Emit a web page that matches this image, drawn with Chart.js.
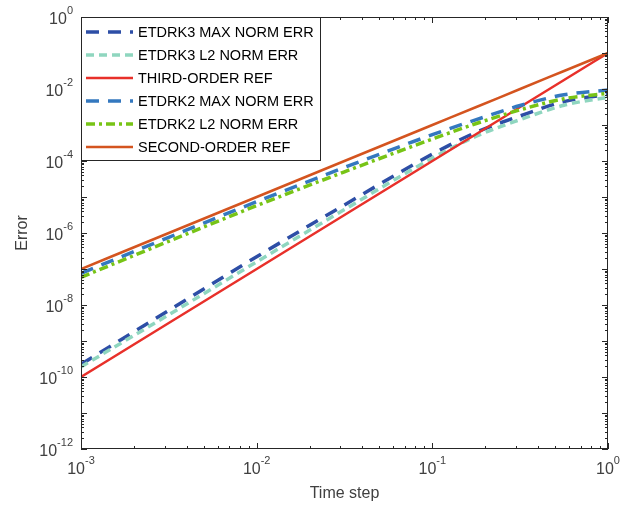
<!DOCTYPE html>
<html>
<head>
<meta charset="utf-8">
<script src="https://cdn.jsdelivr.net/npm/chart.js@4/dist/chart.umd.min.js"></script>
<style>
  html, body { margin: 0; padding: 0; background: #fff; }
</style>
</head>
<body>
<canvas id="errChart" width="620" height="507"></canvas>
<script>
// time steps (x) and errors
const timeSteps = [0.001, 0.00316, 0.01, 0.0316, 0.1, 0.178, 0.316, 0.562, 1];

const etdrk3MaxErr = [2.24e-10, 7.08e-9, 2.19e-7, 6.03e-6, 1.55e-4, 6.3e-4, 1.78e-3, 4.47e-3, 7.08e-3];
const etdrk3L2Err  = [1.91e-10, 5.37e-9, 1.58e-7, 4.47e-6, 1.2e-4, 4.9e-4, 1.41e-3, 3.55e-3, 5.89e-3];
const thirdOrderRef = [1e-10, 3.16e-9, 1e-7, 3.16e-6, 1e-4, 5.62e-4, 3.16e-3, 1.78e-2, 0.1];
const etdrk2MaxErr = [7.59e-8, 7.59e-7, 7.41e-6, 6.61e-5, 5.37e-4, 1.41e-3, 3.47e-3, 6.92e-3, 9.33e-3];
const etdrk2L2Err  = [5.89e-8, 5.89e-7, 5.75e-6, 5.01e-5, 4.07e-4, 1.10e-3, 2.63e-3, 5.37e-3, 7.59e-3];
const secondOrderRef = [1e-7, 1e-6, 1e-5, 1e-4, 1e-3, 3.16e-3, 1e-2, 3.16e-2, 0.1];

const seriesNames = ['ETDRK3 MAX NORM ERR', 'ETDRK3 L2 NORM ERR', 'THIRD-ORDER REF',
                     'ETDRK2 MAX NORM ERR', 'ETDRK2 L2 NORM ERR', 'SECOND-ORDER REF'];

const xTickExps = [-3, -2, -1, 0];
const yTickExps = [-12, -10, -8, -6, -4, -2, 0];

const FONT = '"Liberation Sans", Arial, Helvetica, sans-serif';
const INK = '#262626';

function toPoints(vals) {
    return timeSteps.map((h, i) => ({ x: h, y: vals[i] }));
}

const styles = [
    { color: '#2d4ea6', dash: [13, 9], width: 3.5 },
    { color: '#8fd6bf', dash: [8, 5], width: 3.5 },
    { color: '#e8302a', dash: [], width: 2.5 },
    { color: '#3478bf', dash: [13, 9], width: 3.5 },
    { color: '#77c416', dash: [9, 4, 3, 4], width: 3.5 },
    { color: '#d4541f', dash: [], width: 2.5 }
];
const allSeries = [etdrk3MaxErr, etdrk3L2Err, thirdOrderRef, etdrk2MaxErr, etdrk2L2Err, secondOrderRef];

const datasets = allSeries.map((vals, i) => ({
    label: seriesNames[i],
    data: toPoints(vals),
    borderColor: styles[i].color,
    backgroundColor: styles[i].color,
    borderDash: styles[i].dash,
    borderWidth: styles[i].width,
    borderCapStyle: 'butt',
    cubicInterpolationMode: 'monotone',
    pointRadius: 0,
    fill: false,
    order: allSeries.length - i  // later series on top, like matlab
}));

// draw "10" with a raised exponent
function powLabel(ctx, exp, x, y, align) {
    ctx.font = '16px ' + FONT;
    const wb = ctx.measureText('10').width;
    ctx.font = '11px ' + FONT;
    const ws = ctx.measureText(String(exp)).width;
    let left = x;
    if (align === 'right') left = x - wb - ws;
    if (align === 'center') left = x - (wb + ws) / 2;
    ctx.textAlign = 'left';
    ctx.textBaseline = 'middle';
    ctx.font = '16px ' + FONT;
    ctx.fillText('10', left, y);
    ctx.font = '11px ' + FONT;
    ctx.fillText(String(exp), left + wb, y - 9);
}

const axisDecor = {
    id: 'axisDecor',
    afterDraw(chart) {
        const ctx = chart.ctx;
        const xs = chart.scales.x, ys = chart.scales.y;
        const a = chart.chartArea;
        ctx.save();
        ctx.strokeStyle = INK;
        ctx.fillStyle = '#404040';
        ctx.lineWidth = 1;

        // ticks pointing inward on all four sides
        ctx.beginPath();
        for (let d = xTickExps[0]; d <= xTickExps[xTickExps.length - 1]; d++) {
            for (let m = 1; m <= 9; m++) {
                if (d === 0 && m > 1) break;
                const px = Math.round(xs.getPixelForValue(m * Math.pow(10, d))) + 0.5;
                const len = m === 1 ? 6 : 3;
                ctx.moveTo(px, a.bottom); ctx.lineTo(px, a.bottom - len);
                ctx.moveTo(px, a.top); ctx.lineTo(px, a.top + len);
            }
        }
        for (let d = yTickExps[0]; d <= 0; d++) {
            for (let m = 1; m <= 9; m++) {
                if (d === 0 && m > 1) break;
                const py = Math.round(ys.getPixelForValue(m * Math.pow(10, d))) + 0.5;
                const len = m === 1 ? 6 : 3;
                ctx.moveTo(a.left, py); ctx.lineTo(a.left + len, py);
                ctx.moveTo(a.right, py); ctx.lineTo(a.right - len, py);
            }
        }
        ctx.stroke();
        ctx.strokeRect(a.left + 0.5, a.top + 0.5, a.right - a.left - 1, a.bottom - a.top - 1);

        // tick labels
        xTickExps.forEach(e => powLabel(ctx, e, xs.getPixelForValue(Math.pow(10, e)), a.bottom + 21, 'center'));
        yTickExps.forEach(e => powLabel(ctx, e, a.left - 8, ys.getPixelForValue(Math.pow(10, e)) + 3, 'right'));

        // axis titles
        ctx.font = '16px ' + FONT;
        ctx.textAlign = 'center';
        ctx.textBaseline = 'middle';
        ctx.fillText('Time step', (a.left + a.right) / 2, 494);
        ctx.save();
        ctx.translate(23, (a.top + a.bottom) / 2);
        ctx.rotate(-Math.PI / 2);
        ctx.fillText('Error', 0, 0);
        ctx.restore();

        // legend box
        const lx = a.left, ly = a.top, lw = 239, lh = 143;
        ctx.fillStyle = '#fff';
        ctx.fillRect(lx, ly, lw, lh);
        ctx.strokeStyle = INK;
        ctx.lineWidth = 1;
        ctx.strokeRect(lx + 0.5, ly + 0.5, lw, lh);
        chart.data.datasets.forEach((ds, i) => {
            const y = ly + 15 + i * 23;
            ctx.beginPath();
            ctx.setLineDash(ds.borderDash);
            ctx.lineWidth = ds.borderWidth;
            ctx.strokeStyle = ds.borderColor;
            ctx.moveTo(lx + 5, y);
            ctx.lineTo(lx + 52, y);
            ctx.stroke();
            ctx.setLineDash([]);
            ctx.fillStyle = '#000';
            ctx.font = '14.5px ' + FONT;
            ctx.textAlign = 'left';
            ctx.textBaseline = 'middle';
            ctx.fillText(ds.label, lx + 57, y + 1);
        });
        ctx.restore();
    }
};

new Chart(document.getElementById('errChart'), {
    type: 'line',
    data: { datasets: datasets },
    options: {
        responsive: false,
        animation: false,
        layout: { padding: { left: 81, top: 17, right: 12, bottom: 58 } },
        plugins: { legend: { display: false }, tooltip: { enabled: false } },
        scales: {
            x: { type: 'logarithmic', min: 0.001, max: 1, display: false },
            y: { type: 'logarithmic', min: 1e-12, max: 1, display: false }
        }
    },
    plugins: [axisDecor]
});
</script>
</body>
</html>
